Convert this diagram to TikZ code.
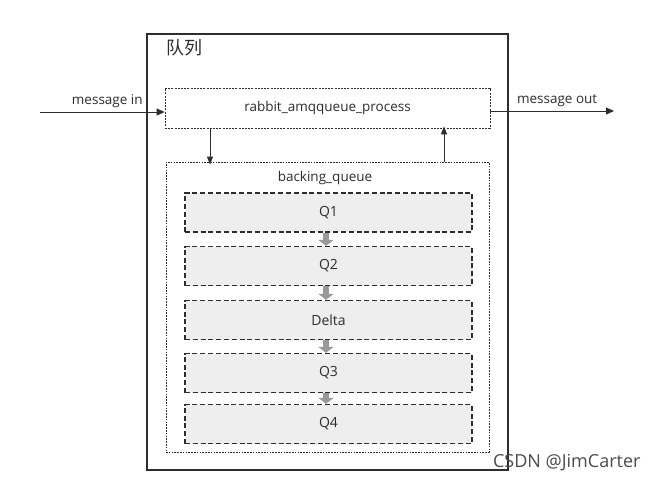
\documentclass[tikz,border=0pt]{standalone}
\usepackage{fontspec}
\setmainfont{Open Sans}
\newfontfamily\cjk{Noto Sans CJK SC}
\usetikzlibrary{arrows.meta}
\definecolor{ink}{RGB}{45,45,45}
\definecolor{qfill}{RGB}{238,238,238}
\tikzstyle{outerbox}=[draw=ink,line width=1.2pt,minimum width=361pt,minimum height=436pt,inner sep=0pt]
\tikzstyle{procbox}=[draw=ink,line width=0.8pt,dash pattern=on 2pt off 1.2pt,minimum width=325pt,minimum height=40pt,inner sep=0pt,font=\fontsize{13.5}{15}\selectfont,text=ink]
\tikzstyle{backbox}=[draw=ink,line width=0.8pt,dash pattern=on 1.6pt off 1.2pt,minimum width=323pt,minimum height=290pt,inner sep=0pt]
\tikzstyle{qbox}=[draw=ink,fill=qfill,line width=1.3pt,dash pattern=on 5pt off 2.8pt,minimum width=287pt,minimum height=39pt,inner sep=0pt,font=\fontsize{14}{16}\selectfont,text=ink]
\tikzstyle{msg}=[draw=ink,line width=1pt,-{Triangle[width=7pt,length=8pt]}]
\tikzstyle{step arrow}=[draw=ink,line width=0.9pt,-{Triangle[width=6pt,length=8pt]}]
\tikzstyle{graydown}=[draw=gray!80,line width=6pt,-{Triangle[width=15pt,length=6pt]}]
\tikzstyle{lbl}=[font=\fontsize{13.5}{15}\selectfont,text=ink]

\begin{document}
\begin{tikzpicture}[x=1pt,y=-1pt]
          \useasboundingbox[fill=white] (0,0) rectangle (660,482);
          \node[outerbox] (queue) at (327.5,252) {};
          \node[anchor=west,font=\cjk\fontsize{18}{20}\selectfont,text=ink] (title) at (163,48) {队列};

          \node[procbox] (proc) at (327.5,108) {rabbit\_amqqueue\_process};
          \node[backbox] (backing) at (327.5,307) {};
          \node[lbl] (backlbl) at (325,178) {backing\_queue};

          \node[qbox] (q1) at (328.5,212.5) {Q1};
          \node[qbox] (q2) at (328.5,266) {Q2};
          \node[qbox] (delta) at (328.5,320) {Delta};
          \node[qbox] (q3) at (328.5,373) {Q3};
          \node[qbox] (q4) at (328.5,424) {Q4};

          % message in / out
          \coordinate (inStart) at (40,112);
          \coordinate (outEnd) at (614,111);
          \draw[msg] (inStart) -- (proc.west |- inStart) node[pos=0.54,above=0pt,lbl]{message in};
          \draw[msg] (proc.east |- outEnd) -- (outEnd) node[pos=0.54,above=0pt,lbl]{message out};

          % between process and backing_queue
          \coordinate (downX) at (210,0);
          \coordinate (upX) at (444,0);
          \draw[step arrow] (proc.south -| downX) -- ([yshift=-3pt]backing.north -| downX);
          \draw[step arrow] (backing.north -| upX) -- ([yshift=2pt]proc.south -| upX);

          \draw[graydown] ([xshift=-2.5pt]q1.south) -- ([xshift=-2.5pt]q2.north);
          \draw[graydown] ([xshift=-2.5pt]q2.south) -- ([xshift=-2.5pt]delta.north);
          \draw[graydown] ([xshift=-2.5pt]delta.south) -- ([xshift=-2.5pt]q3.north);
          \draw[graydown] ([xshift=-2.5pt]q3.south) -- ([xshift=-2.5pt]q4.north);

          \node[anchor=east,font=\fontsize{18}{20}\selectfont,text=black!70] (mark) at (644,463) {CSDN @JimCarter};
        \end{tikzpicture}
\end{document}
